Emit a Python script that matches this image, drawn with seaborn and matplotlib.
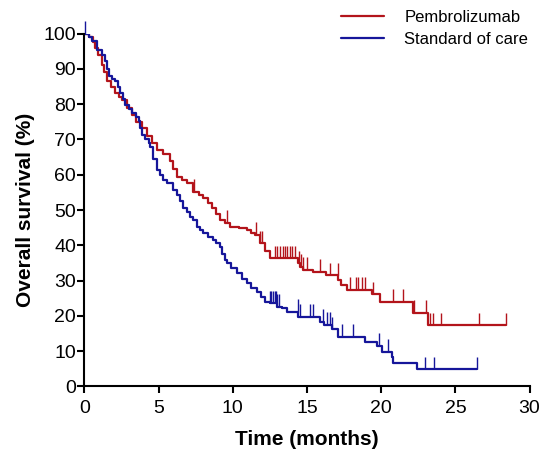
import numpy as np
import pandas as pd
import matplotlib
matplotlib.use("Agg")
import matplotlib.pyplot as plt
import seaborn as sns
from matplotlib.lines import Line2D

# ---- data ----
series_names = ["Pembrolizumab", "Standard of care"]

pembro_time = [0, 0.3, 0.55, 0.73, 0.95, 1.19, 1.35, 1.52, 1.8, 2.08, 2.3, 2.53, 2.9, 3.21, 3.5,
               3.88, 4.2, 4.56, 4.87, 5.3, 5.77, 6.0, 6.22, 6.6, 6.9, 7.34, 7.7, 8.01, 8.3, 8.58,
               8.9, 9.14, 9.5, 9.81, 10.4, 10.94, 11.2, 11.5, 11.83, 12.15, 12.5, 14.4, 14.55,
               14.7, 15.4, 16.3, 17.1, 17.3, 17.7, 19.36, 19.9, 22.16, 23.13, 28.4]
pembro_surv = [100, 99, 97.5, 95.9, 94, 91.2, 89, 86.5, 85, 83.1, 82, 81.2, 79, 77, 75,
               73.2, 71, 69, 67, 66, 64, 61.5, 59.4, 58.5, 57.6, 55.2, 54.2, 53.3, 52, 50.5,
               49, 47.2, 46.3, 45.3, 44.8, 44.3, 43.5, 42.9, 40.6, 38.5, 36.3, 34.9, 33.9,
               33.0, 32.5, 31.5, 30.1, 28.7, 27.3, 26.1, 24.0, 20.8, 17.3, 17.3]
pembro_censor = [7.39, 9.59, 11.56, 11.83, 11.95, 12.84, 13.0, 13.18, 13.36, 13.52, 13.67,
                 13.84, 14.02, 14.19, 14.48, 14.6, 14.71, 15.0, 15.9, 16.55, 17.09, 17.9,
                 18.3, 18.46, 18.7, 18.9, 19.47, 20.8, 21.5, 22.2, 23.0, 23.3, 23.5, 24.0,
                 26.6, 28.4]

soc_time = [0, 0.3, 0.51, 0.85, 1.19, 1.41, 1.55, 1.64, 1.85, 2.08, 2.25, 2.42, 2.6, 2.76,
            3.0, 3.21, 3.45, 3.66, 3.77, 3.88, 4.1, 4.33, 4.42, 4.6, 4.87, 5.1, 5.32, 5.55,
            5.99, 6.22, 6.45, 6.66, 6.9, 7.12, 7.34, 7.57, 7.8, 8.01, 8.3, 8.69, 8.9, 9.14,
            9.3, 9.47, 9.59, 9.9, 10.26, 10.6, 10.94, 11.25, 11.6, 11.9, 12.17, 12.5, 12.96,
            13.3, 13.63, 14.41, 15.88, 16.15, 16.66, 17.1, 18.9, 19.7, 20.03, 20.7, 20.8,
            22.4, 26.43]
soc_surv = [100, 99, 97.8, 95.4, 94, 92.1, 90, 87.9, 87.2, 86.5, 85, 83.1, 81.5, 79.8,
            78.7, 77.5, 76.3, 75.1, 73.2, 71.3, 70.2, 69, 67.9, 64.5, 61.3, 59.9, 58.5, 57.6,
            55.7, 54.2, 52.5, 50.7, 49.4, 48.1, 47.2, 45.3, 44.3, 43.4, 42.5, 41.5, 40.8, 39.5,
            37.5, 35.8, 34.9, 33.5, 32.1, 30.6, 29.2, 28.0, 26.9, 25.4, 24.0, 23.6, 22.6,
            22.2, 21.2, 19.8, 18.4, 17.4, 16.2, 14.1, 12.7, 11.5, 9.9, 8.4, 6.6,
            4.9, 4.9]
soc_censor = [0.05, 12.5, 12.6, 12.73, 12.84, 12.9, 13.0, 13.13, 14.4, 14.53, 15.2, 15.42,
              16.05, 16.33, 16.55, 16.66, 17.34, 18.12, 19.85, 20.48, 22.95, 23.56, 26.43]

x_ticks = [0, 5, 10, 15, 20, 25, 30]
y_ticks = [0, 10, 20, 30, 40, 50, 60, 70, 80, 90, 100]

colors = {"Pembrolizumab": "#b3141b", "Standard of care": "#16169a"}

# ---- build table ----
df = pd.concat([
    pd.DataFrame({"time": pembro_time, "surv": pembro_surv, "arm": series_names[0]}),
    pd.DataFrame({"time": soc_time, "surv": soc_surv, "arm": series_names[1]}),
], ignore_index=True)

sns.set_theme(style="white")
plt.rcParams["font.family"] = ["Liberation Sans", "DejaVu Sans"]
plt.rcParams["text.color"] = "black"
plt.rcParams["axes.labelcolor"] = "black"
plt.rcParams["xtick.color"] = "black"
plt.rcParams["ytick.color"] = "black"

fig = plt.figure(figsize=(5.4, 4.53), dpi=100)
ax = fig.add_axes([0.1563, 0.1468, 0.8244, 0.779])

sns.lineplot(data=df, x="time", y="surv", hue="arm", palette=colors,
             drawstyle="steps-post", estimator=None, sort=False, linewidth=1.6,
             legend=False, ax=ax)

def step_value(times, survs, c):
    idx = np.searchsorted(np.asarray(times), c, side="right") - 1
    return np.asarray(survs)[idx]

for name, t, s, cens in [(series_names[0], pembro_time, pembro_surv, pembro_censor),
                         (series_names[1], soc_time, soc_surv, soc_censor)]:
    cens = np.asarray(cens)
    vals = step_value(t, s, cens)
    ax.vlines(cens, vals, vals + 3.6, colors=colors[name], linewidth=1.0, clip_on=False)

ax.set_xlim(0, 30)
ax.set_ylim(0, 100)
ax.set_xticks(x_ticks)
ax.set_yticks(y_ticks)
ax.tick_params(axis="both", which="major", labelsize=14, length=5, width=1.5,
               direction="out", colors="black", bottom=True, left=True)
ax.tick_params(axis="x", pad=5)
ax.tick_params(axis="y", pad=1)
for side in ["top", "right"]:
    ax.spines[side].set_visible(False)
for side in ["left", "bottom"]:
    ax.spines[side].set_color("black")
    ax.spines[side].set_linewidth(1.5)

ax.set_xlabel("Time (months)", fontsize=15, fontweight="bold", labelpad=9, color="black")
ax.set_ylabel("Overall survival (%)", fontsize=15, fontweight="bold", labelpad=6, color="black")

handles = [Line2D([0], [0], color=colors[n], linewidth=1.6) for n in series_names]
fig.legend(handles, series_names, loc="upper right", bbox_to_anchor=(0.978, 0.978),
           frameon=False, fontsize=12, handlelength=2.6, handletextpad=1.2,
           labelspacing=0.4, borderpad=0, borderaxespad=0, labelcolor="black")

fig.savefig("out.png", dpi=100)
